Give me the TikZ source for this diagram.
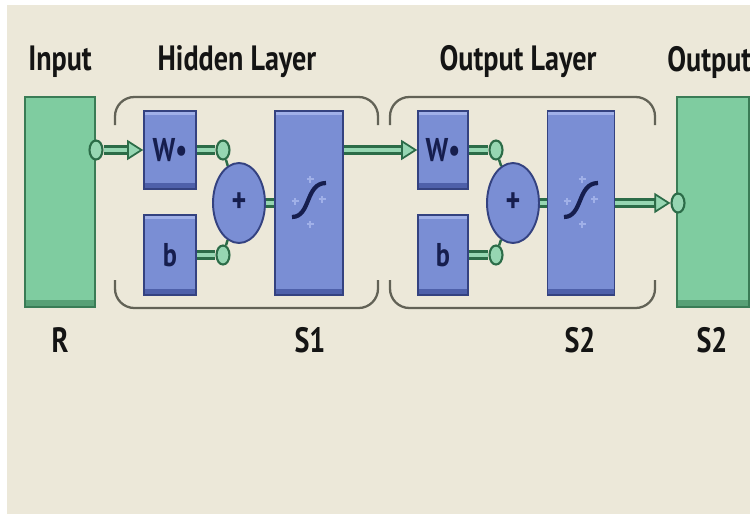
\documentclass[tikz,border=0pt]{standalone}
\usepackage{fontspec}
\setmainfont{PT Sans}
\usepackage{graphicx}
\usepackage{xcolor}
\usetikzlibrary{arrows.meta,positioning,shapes.geometric}
\definecolor{bgbeige}{RGB}{236,232,217}
\definecolor{greenfill}{RGB}{127,204,160}
\definecolor{greenline}{RGB}{58,124,86}
\definecolor{greendark}{RGB}{88,160,118}
\definecolor{bluefill}{RGB}{122,142,212}
\definecolor{blueline}{RGB}{52,66,128}
\definecolor{bluedark}{RGB}{78,96,170}
\definecolor{bluelite}{RGB}{160,176,232}
\definecolor{pipedark}{RGB}{44,108,72}
\definecolor{pipelite}{RGB}{150,214,178}
\definecolor{bracketgray}{RGB}{98,98,86}
\definecolor{navy}{RGB}{22,30,78}
\newcommand{\vstretch}[1]{\scalebox{1}[1.25]{#1}}

\begin{document}
\begin{tikzpicture}[
    x=0.02cm, y=-0.02cm,
    headtxt/.style={font=\fontsize{16}{18}\selectfont\bfseries, text=black!92, inner sep=0pt},
    greenbox/.style={draw=greenline, line width=0.9pt, fill=greenfill, inner sep=0pt, minimum width=1.4cm, minimum height=4.2cm,
        path picture={\fill[greendark] (path picture bounding box.south west) rectangle ([yshift=0.14cm]path picture bounding box.south east);}},
    bluebox/.style={draw=blueline, line width=0.9pt, fill=bluefill, inner sep=0pt, minimum width=1.04cm, minimum height=1.56cm,
        font=\fontsize{15}{17}\selectfont\bfseries, text=navy,
        path picture={\fill[bluedark] (path picture bounding box.south west) rectangle ([yshift=0.12cm]path picture bounding box.south east);
                      \fill[bluelite] ([yshift=-0.07cm]path picture bounding box.north west) rectangle (path picture bounding box.north east);}},
    tfbox/.style={draw=blueline, line width=0.9pt, fill=bluefill, inner sep=0pt, minimum width=1.36cm, minimum height=3.68cm,
        path picture={\fill[bluedark] (path picture bounding box.south west) rectangle ([yshift=0.12cm]path picture bounding box.south east);
                      \fill[bluelite] ([yshift=-0.07cm]path picture bounding box.north west) rectangle (path picture bounding box.north east);
                      \begin{scope}[shift={(path picture bounding box.center)}, x=1cm, y=1cm]
                        \foreach \px/\py in {-0.28/0.04, 0.26/0.08, 0.02/0.48, 0.02/-0.42}
                          {\draw[bluelite, line width=0.9pt] (\px-0.07,\py) -- (\px+0.07,\py) (\px,\py-0.07) -- (\px,\py+0.07);}
                        \draw[navy, line width=2.4pt] (-0.34,-0.28) .. controls (0.04,-0.28) and (-0.08,0.4) .. (0.34,0.4);
                      \end{scope}}},
    sumnode/.style={ellipse, draw=blueline, line width=1.1pt, fill=bluefill, inner sep=0pt, minimum width=1.04cm, minimum height=1.6cm,
        font=\fontsize{16}{18}\selectfont\bfseries, text=navy},
    port/.style={ellipse, draw=pipedark, line width=1.2pt, fill=pipelite, inner sep=0pt, minimum width=0.26cm, minimum height=0.38cm},
    pipe/.style={draw=pipedark, line width=5.5pt, postaction={draw=pipelite, line width=2.2pt, -, shorten >=#1}},
    pipe/.default=0pt,
    arrowhead/.style={-{Triangle[length=0.32cm, width=0.4cm, fill=pipelite, line width=1pt]}},
    link/.style={draw=pipedark, line width=1.4pt},
    bracket/.style={draw=bracketgray, line width=1.3pt, rounded corners=11pt}
]

% page and background
\clip (0,0) rectangle (750,514);
\fill[white] (0,0) rectangle (750,514);
\fill[bgbeige] (7,5) rectangle (750,514);

% titles
\node[headtxt] (tinput) at (60,62) {\vstretch{Input}};
\node[headtxt] (thidden) at (237,62) {\vstretch{Hidden Layer}};
\node[headtxt] (toutlayer) at (518,62) {\vstretch{Output Layer}};
\node[headtxt, anchor=west] (toutput) at (667,62) {\vstretch{Output}};

% layer brackets
\draw[bracket] (115,125) -- (115,97) -- (378,97) -- (378,125);
\draw[bracket] (115,280) -- (115,308) -- (378,308) -- (378,280);
\draw[bracket] (390,125) -- (390,97) -- (655,97) -- (655,125);
\draw[bracket] (390,280) -- (390,308) -- (655,308) -- (655,280);

% input and output blocks
\node[greenbox] (inbox) at (60,202) {};
\node[greenbox, minimum width=1.44cm] (outbox) at (713,202) {};

% hidden layer
\node[bluebox] (w1) at (170,150) {\vstretch{W\textbullet}};
\node[bluebox, minimum height=1.6cm] (b1) at (170,255) {\vstretch{b}};
\node[sumnode] (sum1) at (239,203) {\vstretch{+}};
\node[tfbox] (tf1) at (309,203) {};

% output layer
\node[bluebox, minimum width=1cm] (w2) at (443,150) {\vstretch{W\textbullet}};
\node[bluebox, minimum width=1cm, minimum height=1.6cm] (b2) at (443,255) {\vstretch{b}};
\node[sumnode] (sum2) at (513,203) {\vstretch{+}};
\node[tfbox, minimum width=1.34cm] (tf2) at (581,203) {};

% ports
\node[port] (cin) at (96,150) {};
\node[port] (cw1) at (223,150) {};
\node[port] (cb1) at (223,255) {};
\node[port] (cw2) at (496,150) {};
\node[port] (cb2) at (496,255) {};
\node[port] (cout) at (678,203) {};

% sizes
\node[headtxt] (szr) at (60,340) {\vstretch{R}};
\node[headtxt] (szs1) at (310,340) {\vstretch{S1}};
\node[headtxt] (szs2) at (580,340) {\vstretch{S2}};
\node[headtxt] (szout) at (712,340) {\vstretch{S2}};

% connections
\draw[pipe=0.32cm, arrowhead] (cin.east) -- (w1.west);
\draw[pipe] (w1.east) -- (cw1.west);
\draw[pipe] (b1.east) -- (cb1.west);
\draw[link] (cw1) -- (sum1);
\draw[link] (cb1) -- (sum1);
\draw[pipe] (sum1.east) -- (tf1.west);
\draw[pipe=0.32cm, arrowhead] (tf1.east |- w2.west) -- (w2.west);
\draw[pipe] (w2.east) -- (cw2.west);
\draw[pipe] (b2.east) -- (cb2.west);
\draw[link] (cw2) -- (sum2);
\draw[link] (cb2) -- (sum2);
\draw[pipe] (sum2.east) -- (tf2.west);
\draw[pipe=0.32cm, arrowhead] (tf2.east) -- (cout.west);

\end{tikzpicture}
\end{document}
